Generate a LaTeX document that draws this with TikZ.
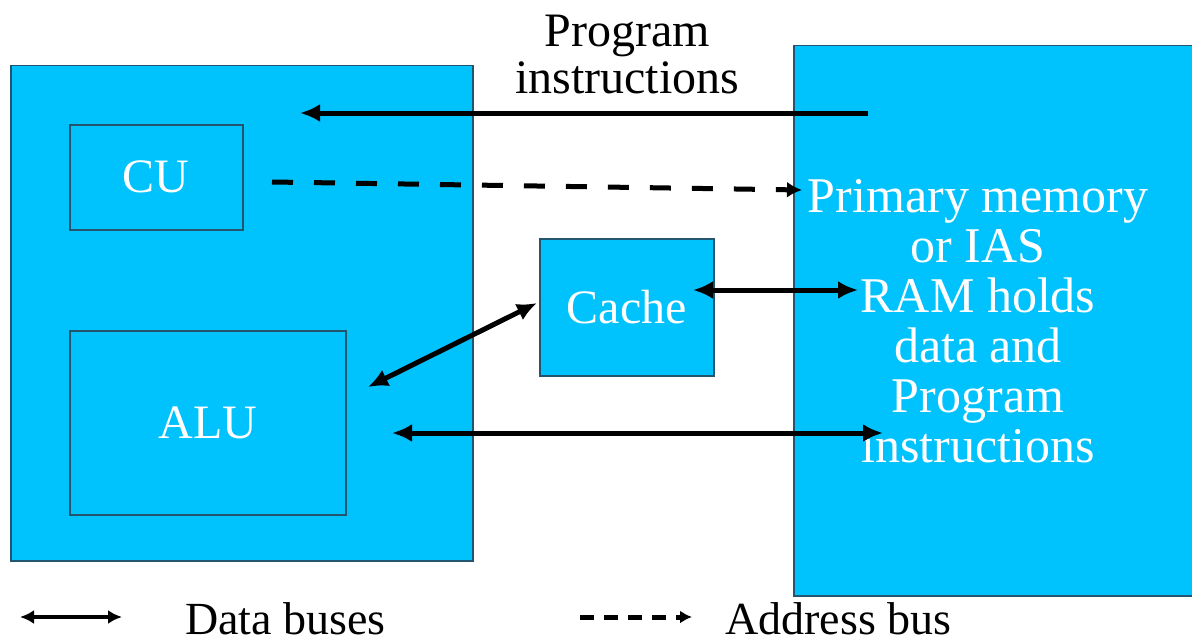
\documentclass[tikz,border=0pt]{standalone}
\usepackage{fontspec}
\setmainfont{Liberation Serif}
\usetikzlibrary{arrows.meta}
\definecolor{boxblue}{RGB}{0,194,252}
\definecolor{boxedge}{RGB}{35,85,110}
\begin{document}
\begin{tikzpicture}[x=1pt,y=-1pt,
  unit/.style={draw=boxedge, line width=1.5pt, fill=boxblue, inner sep=0pt, anchor=north west},
  inlbl/.style={text=white, font=\fontsize{48}{48}\selectfont, align=center},
  memlbl/.style={text=white, font=\fontsize{50}{50}\selectfont, align=center},
  blk/.style={text=black, font=\fontsize{48}{47}\selectfont, align=center},
  legendtxt/.style={text=black, font=\fontsize{46}{46}\selectfont, anchor=base west, inner sep=0pt},
  bus/.style={line width=5pt, -{Latex[length=20pt,width=18pt]}},
  dbus/.style={line width=5pt, {Latex[length=20pt,width=18pt]}-{Latex[length=20pt,width=18pt]}},
  abus/.style={line width=5pt, dash pattern=on 21pt off 21pt, -{Latex[length=15pt,width=16pt]}}
]
\clip (0,0) rectangle (1192,642);
\fill[white] (0,0) rectangle (1192,642);

% processor and memory blocks
\node[unit, minimum width=462, minimum height=495] (cpu) at (10,65) {};
\node[unit, minimum width=173, minimum height=105] (cu) at (69,124) {};
\node[unit, minimum width=276, minimum height=184] (alu) at (69,330) {};
\node[unit, minimum width=174, minimum height=137] (cache) at (539,238) {};
\node[unit, minimum width=420, minimum height=550] (mem) at (793,45) {};

\node[inlbl] (cutxt) at (cu.center) {CU};
\node[inlbl] (alutxt) at (alu.center) {ALU};
\node[inlbl] (cachetxt) at (cache.center) {Cache};
\node[memlbl] (memtxt) at (978,321) {Primary memory\\or IAS\\RAM holds\\data and\\Program\\instructions};

% bus end points
\coordinate (piA) at (868,113);
\coordinate (piB) at (300,113);
\coordinate (abA) at (272,182);
\coordinate (abB) at (802,190);
\coordinate (cmA) at (693,290);
\coordinate (cmB) at (858,290);
\coordinate (caA) at (537,303);
\coordinate (caB) at (368,387);
\coordinate (amA) at (392,433);
\coordinate (amB) at (883,433);

\draw[bus] (piA) -- (piB);
\node[blk] (pilbl) at (627,55) {Program\\instructions};
\draw[abus] (abA) -- (abB);
\draw[dbus] (cmA) -- (cmB);
\draw[dbus] (caA) -- (caB);
\draw[dbus] (amA) -- (amB);

% legend
\coordinate (lgA) at (20,617);
\coordinate (lgB) at (122,617);
\draw[line width=4pt, {Latex[length=14pt,width=14pt]}-{Latex[length=14pt,width=14pt]}] (lgA) -- (lgB);
\node[legendtxt] (lgdata) at (185,634) {Data buses};
\coordinate (lgC) at (580,617);
\coordinate (lgD) at (692,617);
\draw[line width=5pt, dash pattern=on 14pt off 10pt, -{Latex[length=12pt,width=13pt]}] (lgC) -- (lgD);
\node[legendtxt] (lgaddr) at (725,634) {Address bus};
\end{tikzpicture}
\end{document}
